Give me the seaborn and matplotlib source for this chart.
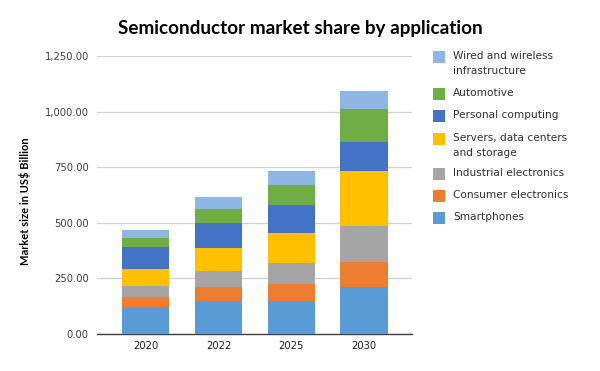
import numpy as np
import pandas as pd
import seaborn as sns
from matplotlib import pyplot as plt
from matplotlib.patches import Rectangle
from matplotlib.ticker import FuncFormatter

# Market size (US$ billion) per application
years = ['2020', '2022', '2025', '2030']
smartphones = [120, 147, 148, 211]
consumer = [48, 66, 78, 114]
industrial = [50, 72, 93, 162]
servers = [76, 103, 135, 246]
personal = [99, 112, 126, 130]
automotive = [40, 63, 90, 149]
wired = [36, 54, 63, 81]

series_names = ['Smartphones', 'Consumer electronics', 'Industrial electronics',
                'Servers, data centers\nand storage', 'Personal computing',
                'Automotive', 'Wired and wireless\ninfrastructure']
series = [smartphones, consumer, industrial, servers, personal, automotive, wired]
colors = ['#5B9BD5', '#ED7D31', '#A5A5A5', '#FFC000', '#4472C4', '#70AD47', '#8EB8E3']

sns.set_style('white')
plt.rcParams['font.family'] = ['DejaVu Sans']

W, H = 600, 371
fig = plt.figure(figsize=(6, 3.71), dpi=100)
ax = fig.add_axes([97 / W, 1 - 334 / H, 315 / W, 278 / H])

# Stacked bars: draw cumulative totals from the top series down
cum = np.cumsum(np.array(series), axis=0)
for i in range(len(series) - 1, -1, -1):
    df = pd.DataFrame({'year': years, 'value': cum[i]})
    sns.barplot(data=df, x='year', y='value', color=colors[i], width=0.65,
                saturation=1, linewidth=0, ax=ax, zorder=3)

ax.set_xlim(-0.67, 3.66)
ax.set_ylim(0, 1250)
ax.set_yticks([0, 250, 500, 750, 1000, 1250])
ax.yaxis.set_major_formatter(FuncFormatter(lambda v, p: '{:,.2f}'.format(v)))
ax.grid(axis='y', color='#D0D0D0', linewidth=0.9, zorder=0)
ax.set_axisbelow(True)
for s in ['left', 'right', 'top']:
    ax.spines[s].set_visible(False)
ax.spines['bottom'].set_color('#404040')
ax.spines['bottom'].set_linewidth(1.0)
ax.tick_params(axis='both', length=0, labelsize=7.2, colors='#404040', pad=6)
ax.tick_params(axis='x', labelcolor='#202020', pad=5)
ax.set_xlabel('')
ax.set_ylabel('Market size in US$ Billion', fontsize=8, fontweight='bold',
              family='Lato', color='black', labelpad=10)
ax.yaxis.label.set_y(0.477)

fig.suptitle('Semiconductor market share by application', x=0.5, y=0.945,
             fontsize=13.6, fontweight='bold', family='Lato', color='black')

# Legend drawn by hand so the squares line up with the first text line
legend_y = [218.5, 196, 174, 139, 116, 94, 57]
for i in range(len(series) - 1, -1, -1):
    yc = legend_y[i]
    fig.patches.append(Rectangle((433 / W, 1 - (yc + 6) / H), 12 / W, 12 / H,
                                 facecolor=colors[i], edgecolor='none',
                                 transform=fig.transFigure, figure=fig))
    for k, line in enumerate(series_names[i].split('\n')):
        fig.text(453 / W, 1 - (yc - 1 + 15 * k) / H, line, fontsize=7.6,
                 color='#303030', va='center', ha='left')

fig.savefig('out.png', dpi=100)
